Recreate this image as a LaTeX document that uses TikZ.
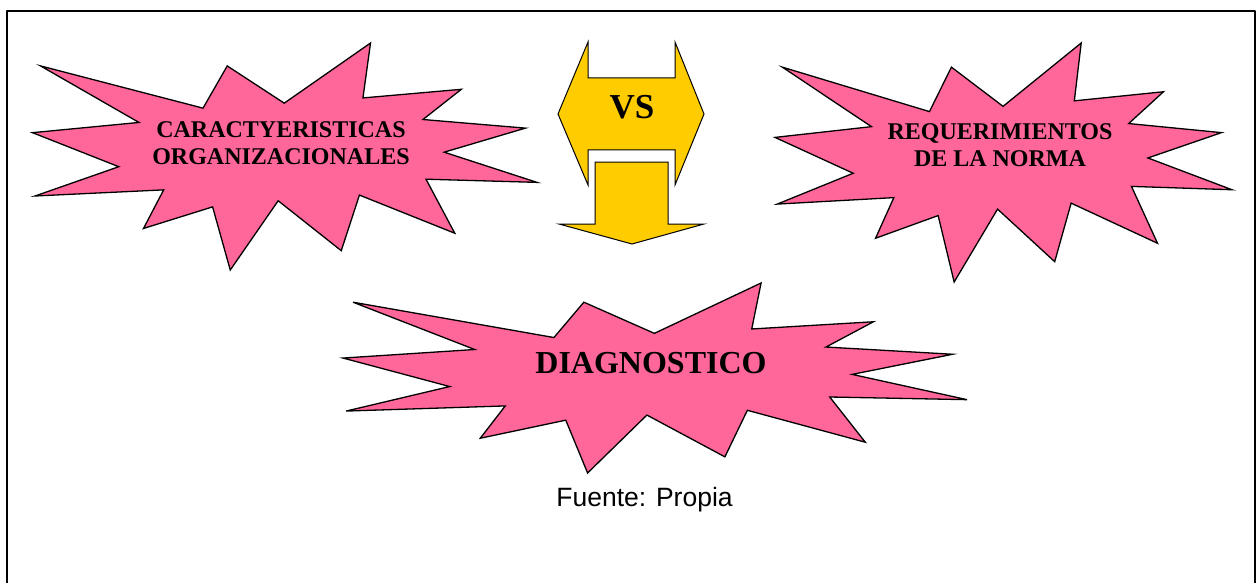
\documentclass[tikz,border=0pt]{standalone}
\usepackage{fontspec}
\setmainfont{Liberation Serif}
\newfontfamily\arialfont{Liberation Sans}

\definecolor{burstpink}{HTML}{FF6699}
\definecolor{vsyellow}{HTML}{FFCC00}

\tikzset{
  burst/.style={fill=burstpink, draw=black, line width=1.3pt, line join=miter},
  vsarrow/.style={fill=vsyellow, draw=black, line width=1pt, line join=miter},
  bursttext/.style={inner sep=0pt, align=center, font=\fontsize{24}{27}\selectfont\bfseries},
}

% 爆炸形：单位框内 24 个顶点，按外框 (x0,y0,宽,高) 缩放
\newcommand\burstat[4]{%
  \begin{scope}[shift={(#1,#2)}, xscale=#3, yscale=#4]
    \draw[burst] (0.016,0.101) -- (0.338,0.287) -- (0.386,0.101) -- (0.499,0.265)
      -- (0.670,0.000) -- (0.655,0.242) -- (0.850,0.204) -- (0.774,0.337)
      -- (0.977,0.375) -- (0.816,0.481) -- (1.000,0.614) -- (0.780,0.600)
      -- (0.837,0.838) -- (0.648,0.670) -- (0.612,0.915) -- (0.487,0.695)
      -- (0.392,1.000) -- (0.357,0.722) -- (0.220,0.817) -- (0.260,0.647)
      -- (0.005,0.674) -- (0.171,0.545) -- (0.000,0.395) -- (0.211,0.350) -- cycle;
  \end{scope}}

\begin{document}
\begin{tikzpicture}[x=1pt, y=-1pt, line cap=round, line join=round]

  %% ════ 外框（下边不封口）════
  \draw[line width=1.7pt, line cap=butt] (7,583) -- (7,11) -- (1255,11) -- (1255,583);

  %% ════ 爆炸形 ════
  \burstat{32.5}{43}{504.5}{227}
  \burstat{775}{43}{457}{239}
  \burstat{343}{283}{624}{190}

  %% ════ VS 箭头 ════
  \draw[vsarrow] (558,114) -- (588,42) -- (588,78) -- (675,78) -- (675,42) -- (704,114)
    -- (675,185) -- (675,150) -- (588,150) -- (588,185) -- cycle;
  \draw[vsarrow] (595,162) -- (668,162) -- (668,224) -- (704,224) -- (632,244)
    -- (559,224) -- (595,224) -- cycle;

  %% ════ 标签 ════
  \node[bursttext] (caract) at (281,143.3) {CARACTYERISTICAS\\ORGANIZACIONALES};   % box(157,121,248,44)
  \node[bursttext] (requer) at (1000,145) {REQUERIMIENTOS\\DE LA NORMA};           % box(888,123,224,44)
  \node[bursttext, anchor=base, font=\fontsize{32}{36}\selectfont\bfseries] (diag) at (651,373) {DIAGNOSTICO};
  \node[bursttext, anchor=base, font=\fontsize{35}{40}\selectfont\bfseries] (vs) at (632,118.3) {VS};
  \node[anchor=base, inner sep=0pt, font=\arialfont\fontsize{26.5}{30}\selectfont] (fuente) at (644.5,506) {Fuente: Propia};

  % 画布 1:1
  \pgfresetboundingbox
  \path[use as bounding box] (0,0) rectangle (1258,583);
\end{tikzpicture}
\end{document}
